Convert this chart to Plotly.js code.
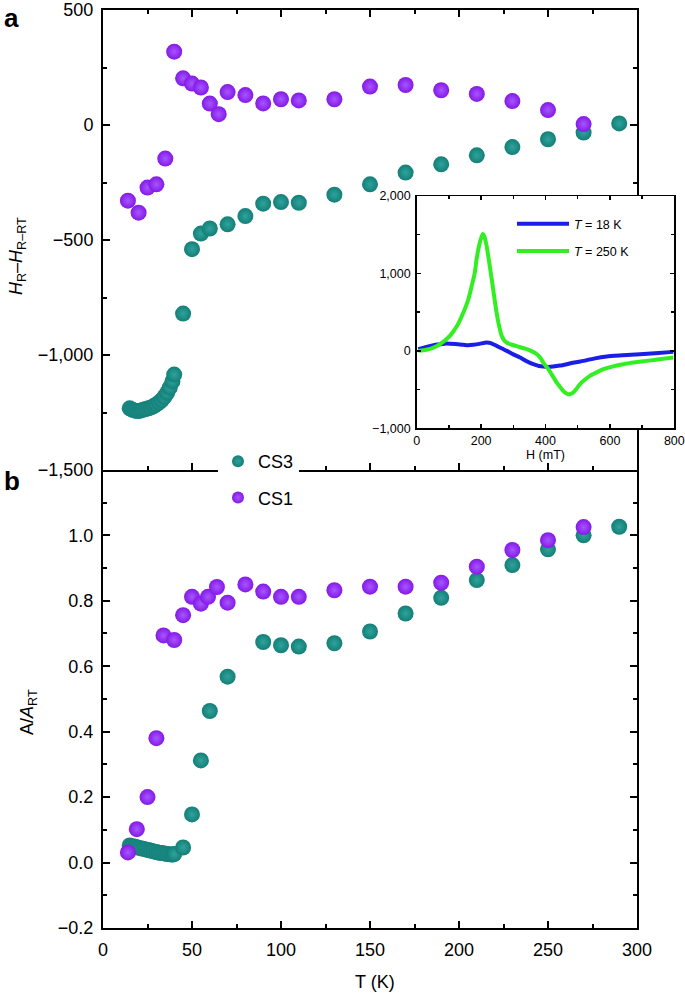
<!DOCTYPE html>
<html><head><meta charset="utf-8">
<script src="https://cdn.plot.ly/plotly-3.0.1.min.js"></script>
<style>body{margin:0;background:#fff}</style>
</head><body><div id="chart" style="width:685px;height:994px"></div>
<script>
// ---- Panel a: H_R - H_R-RT vs T ----
const tCs3Top = [15,16.5,18,19.5,21,22.5,24,25.5,27,28.5,30,31.5,33,34.5,36,37.5,39,40,45,50,55,60,70,80,90,100,110,130,150,170,190,210,230,250,270,290];
const hCs3Top = [-1232,-1238,-1242,-1244,-1242,-1238,-1235,-1232,-1228,-1222,-1215,-1206,-1196,-1182,-1165,-1142,-1115,-1085,-820,-540,-472,-450,-432,-396,-342,-335,-338,-303,-258,-207,-171,-132,-96,-62,-33,7];
const tCs1Top = [14,20,25,30,35,40,45,50,55,60,65,70,80,90,100,110,130,150,170,190,210,230,250,270];
const hCs1Top = [-329,-381,-272,-258,-146,319,203,180,163,93,47,143,130,94,112,107,112,167,174,151,135,104,65,4];

// ---- Panel b: A/A_RT vs T ----
const tCs3Bot = [15,16.5,18,19.5,21,22.5,24,25.5,27,28.5,30,31.5,33,34.5,36,37.5,39,40,45,50,55,60,70,90,100,110,130,150,170,190,210,230,250,270,290];
const aCs3Bot = [0.052,0.050,0.048,0.046,0.044,0.042,0.040,0.038,0.036,0.034,0.032,0.030,0.029,0.028,0.026,0.025,0.024,0.026,0.046,0.147,0.312,0.463,0.568,0.674,0.664,0.660,0.670,0.706,0.761,0.809,0.863,0.909,0.957,1.000,1.026];
const tCs1Bot = [14,19,25,30,34,40,45,50,55,59,64,70,80,90,100,110,130,150,170,190,210,230,250,270];
const aCs1Bot = [0.031,0.102,0.200,0.380,0.694,0.680,0.756,0.812,0.791,0.812,0.842,0.794,0.850,0.828,0.812,0.812,0.832,0.843,0.843,0.855,0.904,0.955,0.985,1.025];

// ---- Inset: EPR spectra ----
const h18 = [5,30,52,72,93,120,145,160,176,195,217,230,248,265,280,300,321,340,362,380,393,410,424,445,466,490,518,550,590,640,693,740,797];
const s18 = [22,50,73,85,95,88,78,72,78,90,108,100,65,30,0,-45,-86,-130,-172,-195,-203,-208,-203,-190,-172,-150,-129,-100,-73,-58,-43,-30,-13];
const h250 = [5,30,52,72,103,125,145,160,171,180,186,195,205,210,217,225,233,240,248,256,264,275,290,315,342,360,373,385,393,401,409,420,435,446,455,463,471,478,486,495,507,520,538,558,580,610,642,680,714,760,797];
const s250 = [0,15,43,86,194,320,495,660,840,1000,1185,1380,1508,1480,1358,1150,927,720,496,320,194,120,86,55,22,-10,-43,-95,-151,-195,-237,-310,-409,-470,-517,-545,-560,-555,-539,-495,-431,-380,-323,-280,-237,-200,-172,-148,-129,-105,-86];

const seriesNames = ['CS3','CS1'];
const insetNames = ['<i>T</i> = 18 K','<i>T</i> = 250 K'];

const teal = '#137f78', tealC = '#2fa39b';
const purple = '#8419e6', purpleC = '#a656ff';
const FONT = 'Liberation Sans, Arial, sans-serif';

function mk(x,y,xa,ya,color,center,name,show){
  return {x:x,y:y,xaxis:xa,yaxis:ya,type:'scatter',mode:'markers',name:name,
    legendgroup:name,showlegend:show,
    marker:{size:16,color:color,line:{width:0},gradient:{type:'radial',color:center}}};
}
const traces = [
  mk(tCs3Top,hCs3Top,'x','y',teal,tealC,seriesNames[0],true),
  mk(tCs1Top,hCs1Top,'x','y',purple,purpleC,seriesNames[1],true),
  mk(tCs3Bot,aCs3Bot,'x2','y2',teal,tealC,seriesNames[0],false),
  mk(tCs1Bot,aCs1Bot,'x2','y2',purple,purpleC,seriesNames[1],false),
  {x:h18,y:s18,xaxis:'x3',yaxis:'y3',type:'scatter',mode:'lines',name:insetNames[0],legend:'legend2',legendgroup:'l18',
   line:{color:'#1a1ee6',width:4,shape:'spline',smoothing:0.6}},
  {x:h250,y:s250,xaxis:'x3',yaxis:'y3',type:'scatter',mode:'lines',name:insetNames[1],legend:'legend2',legendgroup:'l250',
   line:{color:'#33ee22',width:4,shape:'spline',smoothing:0.6}}
];

const L=103, R=9, T=10, B=66, W=685, H=994;
const pw = W-L-R, ph = H-T-B;
const px = v => (v-L)/pw;
const py = v => (H-B-v)/ph;
const mainRight = px(637);
const split = py(470);

const axBase = {showline:true,linecolor:'#000',linewidth:2,ticks:'inside',tickcolor:'#000',tickwidth:2,ticklen:7,
  showgrid:false,zeroline:false,tickfont:{size:18,color:'#000',family:FONT},ticklabelstandoff:4};
const minorBase = {ticks:'inside',ticklen:4,tickwidth:2,tickcolor:'#000',showgrid:false};

const layout = {
  width:W,height:H,margin:{l:L,r:R,t:T,b:B},
  paper_bgcolor:'#fff',plot_bgcolor:'#fff',
  font:{family:FONT,color:'#000'},
  separators:'.,',
  xaxis:Object.assign({},axBase,{domain:[0,mainRight],anchor:'y',range:[0,300],dtick:50,tick0:0,showticklabels:false,mirror:'ticks',minor:Object.assign({},minorBase,{dtick:25})}),
  yaxis:Object.assign({},axBase,{domain:[split,1],anchor:'x',range:[-1500,500],dtick:500,tickformat:',',mirror:'ticks',minor:Object.assign({},minorBase,{dtick:250})}),
  xaxis2:Object.assign({},axBase,{domain:[0,mainRight],anchor:'y2',range:[0,300],dtick:50,tick0:0,mirror:false,minor:Object.assign({},minorBase,{dtick:25})}),
  yaxis2:Object.assign({},axBase,{domain:[0,split],anchor:'x2',range:[-0.2,1.1995],dtick:0.2,tick0:-0.2,tickformat:'.1f',mirror:'ticks',minor:Object.assign({},minorBase,{dtick:0.1})}),
  xaxis3:Object.assign({},axBase,{domain:[px(416.7),px(674.3)],anchor:'y3',range:[0,800],dtick:200,linewidth:1.5,tickwidth:1.5,ticklen:4,mirror:'ticks',
    tickfont:{size:12.5,color:'#000',family:FONT},ticklabelstandoff:0,
    title:{text:'H (mT)',font:{size:12.5,family:FONT,color:'#000'},standoff:0},
    minor:Object.assign({},minorBase,{dtick:100,ticklen:3,tickwidth:1.5})}),
  yaxis3:Object.assign({},axBase,{domain:[py(428.3),py(196)],anchor:'x3',range:[-1000,2000],dtick:1000,tickformat:',',linewidth:1.5,tickwidth:1.5,ticklen:4,mirror:'ticks',
    tickfont:{size:12.5,color:'#000',family:FONT},ticklabelstandoff:2,
    minor:Object.assign({},minorBase,{dtick:500,ticklen:3,tickwidth:1.5})}),
  showlegend:true,
  legend:{x:px(218),y:py(443),xanchor:'left',yanchor:'top',bgcolor:'#fff',borderwidth:0,
    font:{size:18,family:FONT,color:'#000'},tracegroupgap:10,itemsizing:'constant',entrywidth:80},
  legend2:{x:px(512),y:py(209),xanchor:'left',yanchor:'top',bgcolor:'rgba(0,0,0,0)',borderwidth:0,
    font:{size:12.5,family:FONT,color:'#000'},tracegroupgap:8,itemwidth:52},
  annotations:[
    {text:'<b>a</b>',xref:'paper',yref:'paper',x:px(2),y:py(1),xanchor:'left',yanchor:'top',showarrow:false,font:{size:26,family:FONT,color:'#000'}},
    {text:'<b>b</b>',xref:'paper',yref:'paper',x:px(2),y:py(481),xanchor:'left',yanchor:'middle',showarrow:false,font:{size:26,family:FONT,color:'#000'}},
    {text:'<i>H</i><sub>R</sub>–<i>H</i><sub>R–RT</sub>',xref:'paper',yref:'paper',x:px(17),y:py(256),xanchor:'center',yanchor:'middle',textangle:-90,showarrow:false,font:{size:18,family:FONT,color:'#000'}},
    {text:'A/<i>A</i><sub>RT</sub>',xref:'paper',yref:'paper',x:px(28),y:py(712),xanchor:'center',yanchor:'middle',textangle:-90,showarrow:false,font:{size:18,family:FONT,color:'#000'}},
    {text:'T (K)',xref:'paper',yref:'paper',x:px(375),y:py(982),xanchor:'center',yanchor:'middle',showarrow:false,font:{size:18,family:FONT,color:'#000'}}
  ]
};
Plotly.newPlot('chart',traces,layout,{displayModeBar:false,staticPlot:true});
</script></body></html>
